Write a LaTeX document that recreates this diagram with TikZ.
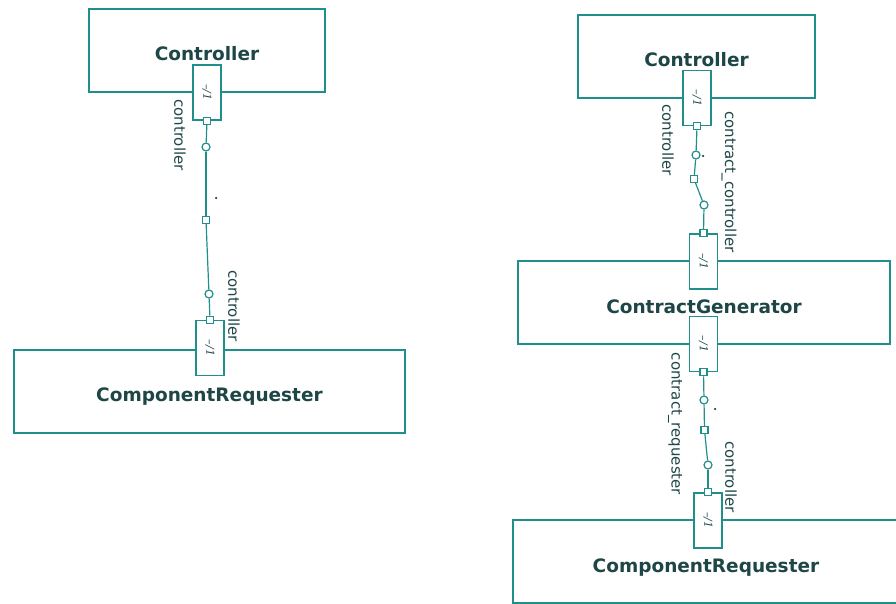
\documentclass[tikz,border=0pt]{standalone}
\usepackage{fontspec}
\setsansfont{DejaVu Sans}
\newfontfamily\multfont{DejaVu Serif}
\usepackage{xcolor}
\usepackage{tikz}
\usetikzlibrary{positioning}

\definecolor{lineteal}{RGB}{32,142,138}
\definecolor{inkteal}{RGB}{30,70,70}

\begin{document}
\begin{tikzpicture}[
  x=1pt, y=-1pt,
  comp/.style={draw=lineteal, line width=2pt, fill=white, minimum width=#1,
    minimum height=83pt, inner sep=0pt, text=inkteal, text height=21pt, text depth=0pt,
    font=\sffamily\bfseries\fontsize{18.5}{20}\selectfont},
  port/.style={draw=lineteal, line width=1.5pt, fill=white, minimum width=28pt,
    minimum height=55pt, inner sep=0pt},
  pin/.style={draw=lineteal, fill=white, line width=1.2pt, minimum size=7pt, inner sep=0pt},
  ring/.style={circle, draw=lineteal, fill=white, line width=1.2pt, minimum size=8pt, inner sep=0pt},
  dotmark/.style={circle, fill=inkteal, minimum size=2.5pt, inner sep=0pt},
  role/.style={rotate=-90, inner sep=0pt, text=inkteal, font=\sffamily\fontsize{15}{17}\selectfont},
  mult/.style={rotate=-90, inner sep=0pt, text=inkteal, font=\multfont\itshape\fontsize{11}{13}\selectfont},
  every edge/.style={draw=lineteal, line width=1.2pt}
]
\clip (0,0) rectangle (896,604);

% left diagram
\node[comp=236pt] (ctrlA) at (207,50.5) {Controller};
\node[comp=391pt] (reqA) at (209.5,391) {ComponentRequester};
\node[port] (ctrlApt) at (207,92.5) {};
\node[mult] (ctrlAm) at (ctrlApt) {–/1};
\node[port] (reqApt) at (210,348) {};
\node[mult] (reqAm) at (reqApt) {–/1};
\node[pin] (ctrlApin) at (ctrlApt.south) {};
\node[ring] (a1) at (206,147) {};
\node[pin] (a2) at (206,220) {};
\node[ring] (a3) at (209,294) {};
\node[pin] (reqApin) at (reqApt.north) {};
\node[dotmark] (adot) at (216,198) {};
\node[role] (ctrlArole) at (180,135) {controller};
\node[role] (reqArole) at (234,306) {controller};
\path
  (ctrlApin) edge (a1)
  (a1) edge (a2)
  (a2) edge (a3)
  (a3) edge (reqApin);

% right diagram
\node[comp=237pt] (ctrlB) at (696.5,56.5) {Controller};
\node[comp=372pt] (genB) at (704,302.5) {ContractGenerator};
\node[comp=386pt] (reqB) at (706,561.5) {ComponentRequester};
\node[port] (ctrlBpt) at (697,98) {};
\node[mult] (ctrlBm) at (ctrlBpt) {–/1};
\node[port] (genBtop) at (703.5,261.5) {};
\node[mult] (genBtm) at (genBtop) {–/1};
\node[port] (genBbot) at (703.5,344) {};
\node[mult] (genBbm) at (genBbot) {–/1};
\node[port] (reqBpt) at (708,520.5) {};
\node[mult] (reqBm) at (reqBpt) {–/1};

\node[pin] (ctrlBpin) at (ctrlBpt.south) {};
\node[ring] (b1) at (696,155) {};
\node[pin] (b2) at (694,179) {};
\node[ring] (b3) at (704,205) {};
\node[pin] (genBtpin) at (genBtop.north) {};
\node[dotmark] (bdot) at (703,156) {};

\node[pin] (genBbpin) at (genBbot.south) {};
\node[ring] (c1) at (704,400) {};
\node[pin] (c2) at (704.5,430) {};
\node[ring] (c3) at (708,465) {};
\node[pin] (reqBpin) at (reqBpt.north) {};
\node[dotmark] (cdot) at (715,409) {};

\node[role] (ctrlBrole) at (668,140) {controller};
\node[role] (genBtrole) at (729,182) {contract\_controller};
\node[role] (genBbrole) at (675,424) {contract\_requester};
\node[role] (reqBrole) at (731,477) {controller};
\path
  (ctrlBpin) edge (b1)
  (b1) edge (b2)
  (b2) edge (b3)
  (b3) edge (genBtpin)
  (genBbpin) edge (c1)
  (c1) edge (c2)
  (c2) edge (c3)
  (c3) edge (reqBpin);
\end{tikzpicture}
\end{document}
